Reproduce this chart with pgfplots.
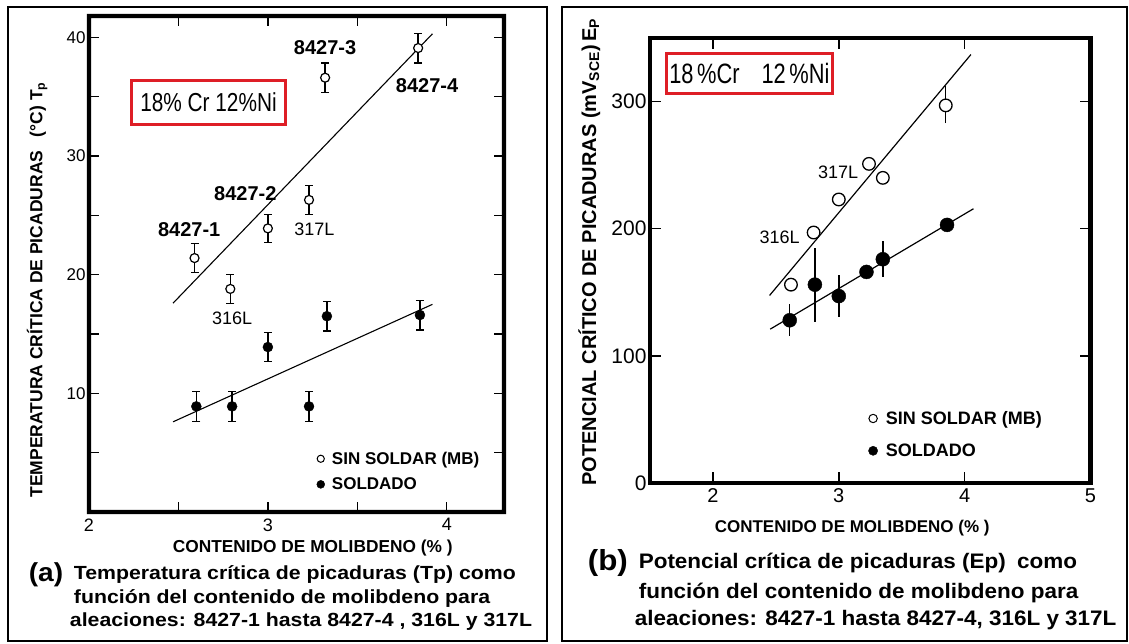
\documentclass[border=0pt]{standalone}
\usepackage{pgfplots}
\pgfplotsset{compat=1.18}
\usepackage{pgfplotstable}
\usepackage{fontspec}
\setmainfont{Liberation Sans}

\definecolor{boxred}{RGB}{222,30,38}

% Panel (a): critical pitting temperature
\pgfplotstableread{
x     y     e
2.59  21.4  1.2
2.79  18.8  1.2
3.00  23.9  1.2
3.23  26.3  1.2
3.32  36.6  1.25
3.84  39.1  1.25
}\tpbase
\pgfplotstableread{
x     y     e
2.60  8.9   1.25
2.80  8.9   1.25
3.00  13.9  1.2
3.23  8.9   1.25
3.33  16.5  1.25
3.85  16.6  1.25
}\tpweld

% Panel (b): critical pitting potential
\pgfplotstableread{
x     y
2.62  156
2.80  197
3.00  223
3.24  251
3.35  240
3.85  297
}\epbase
\pgfplotstableread{
x     y     e
2.61  128   12.5
2.81  156   29
3.00  147   16.5
3.22  166   0
3.35  176   14
3.86  203   0
}\epweld

\newcommand{\fs}[1]{\fontsize{#1}{#1}\selectfont}

\begin{document}
\begin{tikzpicture}[x=1pt,y=1pt]
\path[use as bounding box] (0,0) rectangle (1129,643);
% panel frames
\draw[line width=1.6pt] (8,2) rectangle (547,636);
\draw[line width=1.6pt] (562,2) rectangle (1127,636);

% ---------------- (a) ----------------
\begin{axis}[
  name=axA,
  at={(89pt,131pt)}, anchor=south west, scale only axis,
  width=415pt, height=496pt,
  xmin=2, xmax=4.32, ymin=0, ymax=41.8,
  clip=false,
  axis line style={line width=4pt},
  xtick={2,3,4}, minor xtick={2.5,3.5},
  ytick={10,20,30,40}, minor ytick={5,15,25,35},
  tick align=inside,
  major tick length=10pt, minor tick length=10pt,
  every tick/.style={line width=1.4pt, black},
  every minor tick/.style={line width=1.4pt, black},
  /pgf/number format/assume math mode=true,
  xticklabel style={font=\fs{18}, yshift=-3pt},
  yticklabel style={font=\fs{17}},
  xlabel={\textbf{CONTENIDO DE MOLIBDENO (\% )}},
  xlabel style={font=\fs{17.3}, at={(axis description cs:0.539,-0.073)}, anchor=center},
  ylabel={\textbf{TEMPERATURA CRÍTICA DE PICADURAS\enspace\ (°C) T\textsubscript{p}}},
  ylabel style={font=\fs{17.5}, at={(axis description cs:-0.125,0.448)}, anchor=center, rotate=0},
  legend style={at={(axis cs:3.271,5.17)}, anchor=north west, draw=none, fill=none,
    font=\fs{17}\bfseries, row sep=10pt, column sep=6pt, inner sep=0pt,
    nodes={inner sep=1pt}},
  legend cell align=left,
]
\addplot[black, line width=1.1pt, forget plot] coordinates {(2.47,17.6) (3.92,40.3)};
\addplot[black, line width=1.1pt, forget plot] coordinates {(2.47,7.6) (3.92,17.5)};
\addplot[only marks, mark=*, mark size=4.5pt,
  mark options={fill=white, draw=black, line width=1.2pt},
  legend image code/.code={\draw[black, line width=1pt, fill=white] (0pt,0pt) circle (3.6pt);},
  error bars/.cd, y dir=both, y explicit,
  error bar style={line width=1.3pt, black},
  error mark options={rotate=90, mark size=4pt, line width=1.3pt, black},
] table[x=x, y=y, y error=e] {\tpbase};
\addlegendentry{SIN SOLDAR (MB)}
\addplot[only marks, mark=*, mark size=5pt,
  mark options={fill=black, draw=black},
  legend image code/.code={\fill[black] (0pt,0pt) circle (4pt);},
  error bars/.cd, y dir=both, y explicit,
  error bar style={line width=1.3pt, black},
  error mark options={rotate=90, mark size=4pt, line width=1.3pt, black},
] table[x=x, y=y, y error=e] {\tpweld};
\addlegendentry{SOLDADO}
% annotations
\node[font=\fs{20}\bfseries] at (axis cs:3.32,39.1) {8427-3};
\node[font=\fs{20}\bfseries] at (axis cs:3.89,35.9) {8427-4};
\node[font=\fs{20}\bfseries] at (axis cs:2.874,26.8) {8427-2};
\node[font=\fs{20}\bfseries] at (axis cs:2.56,23.8) {8427-1};
\node[font=\fs{18}] at (axis cs:3.26,23.8) {317L};
\node[font=\fs{18}] at (axis cs:2.80,16.35) {316L};
\node[draw=boxred, line width=3.5pt, fill=white, minimum width=154pt, minimum height=44pt,
  inner sep=0pt] at (axis cs:2.668,34.5) {\scalebox{0.8}[1]{\fs{26}18\% Cr 12\%Ni}};
\end{axis}
% heavy frame of panel (a), as a filled ring
\fill[black, even odd rule] (86.8,128.8) rectangle (506.2,629.2) (91.2,133.2) rectangle (501.8,624.8);

% ---------------- (b) ----------------
\begin{axis}[
  name=axB,
  at={(650pt,160pt)}, anchor=south west, scale only axis,
  width=440.5pt, height=445pt,
  xmin=1.5, xmax=5, ymin=0, ymax=350,
  clip=false,
  axis line style={line width=4.2pt},
  xtick={2,3,4,5},
  ytick={0,100,200,300},
  tick align=inside,
  major tick length=11pt,
  every tick/.style={line width=1.5pt, black},
  /pgf/number format/assume math mode=true,
  xticklabel style={font=\fs{20}, yshift=-2pt},
  yticklabel style={font=\fs{21}},
  xlabel={\textbf{CONTENIDO DE MOLIBDENO (\% )}},
  xlabel style={font=\fs{17}, at={(axis description cs:0.459,-0.101)}, anchor=center},
  ylabel={\textbf{POTENCIAL CRÍTICO DE PICADURAS (mV\textsubscript{SCE})\,E\textsubscript{P}}},
  ylabel style={font=\fs{20}, at={(axis description cs:-0.138,0.519)}, anchor=center, rotate=0},
  legend style={at={(axis cs:3.233,57.4)}, anchor=north west, draw=none, fill=none,
    font=\fs{18}\bfseries, row sep=16pt, column sep=7pt, inner sep=0pt,
    nodes={inner sep=1pt}},
  legend cell align=left,
]
\addplot[black, line width=1.2pt, forget plot] coordinates {(2.45,147.5) (4.05,337)};
\addplot[black, line width=1.2pt, forget plot] coordinates {(2.455,121) (4.07,215.7)};
\addplot[black, line width=1.4pt, forget plot] coordinates {(3.85,283) (3.85,312)};
\addplot[only marks, mark=*, mark size=6.3pt,
  mark options={fill=white, draw=black, line width=1.3pt},
  legend image code/.code={\draw[black, line width=1pt, fill=white] (0pt,0pt) circle (4.2pt);},
] table[x=x, y=y] {\epbase};
\addlegendentry{SIN SOLDAR (MB)}
\addplot[only marks, mark=*, mark size=7pt,
  mark options={fill=black, draw=black},
  legend image code/.code={\fill[black] (0pt,0pt) circle (4.6pt);},
  error bars/.cd, y dir=both, y explicit,
  error bar style={line width=1.5pt, black},
  error mark=none,
] table[x=x, y=y, y error=e] {\epweld};
\addlegendentry{SOLDADO}
\node[font=\fs{18}] at (axis cs:2.995,244.7) {317L};
\node[font=\fs{18}] at (axis cs:2.53,193.5) {316L};
\node[draw=boxred, line width=3.5pt, fill=white, minimum width=166pt, minimum height=40pt,
  inner sep=0pt] at (axis cs:2.29,322) {\scalebox{0.78}[1]{\fs{28}18\,\%Cr\quad 12\,\%Ni}};
\end{axis}
% heavy frame of panel (b)
\draw[black, line width=4.2pt, line join=miter] (axB.south west) rectangle (axB.north east);

% captions
\node[anchor=west, font=\fs{26}\bfseries, xscale=1.08] at (25,68) {(a)};
\node[anchor=west, font=\fs{19}\bfseries, xscale=1.12] at (70,68) {Temperatura crítica de picaduras (Tp) como};
\node[anchor=west, font=\fs{19}\bfseries, xscale=1.12] at (70,44) {función del contenido de molibdeno para};
\node[anchor=west, font=\fs{19}\bfseries, xscale=1.12] at (66,21) {aleaciones: 8427-1 hasta 8427-4 , 316L y 317L};

\node[anchor=west, font=\fs{29}\bfseries, xscale=1.08] at (584,80) {(b)};
\node[anchor=west, font=\fs{21}\bfseries, xscale=1.07] at (635,80) {Potencial crítica de picaduras (Ep)\enspace como};
\node[anchor=west, font=\fs{21}\bfseries, xscale=1.07] at (635,50) {función del contenido de molibdeno para};
\node[anchor=west, font=\fs{21}\bfseries, xscale=1.07] at (631,23) {aleaciones: 8427-1 hasta 8427-4, 316L y 317L};
\end{tikzpicture}
\end{document}
